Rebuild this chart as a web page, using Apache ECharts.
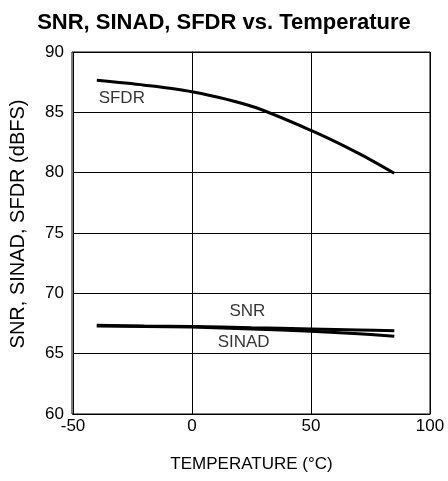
<!DOCTYPE html>
<html>
<head>
<meta charset="utf-8">
<script src="https://cdn.jsdelivr.net/npm/echarts@6/dist/echarts.min.js"></script>
<style>
  html, body { margin: 0; padding: 0; background: #fff; }
  #chart { width: 448px; height: 481px; }
</style>
</head>
<body>
<div id="chart"></div>
<script>
// data
const temps = [-40, -20, 0, 25, 50, 70, 85];
const sfdr = [87.65, 87.25, 86.7, 85.5, 83.5, 81.6, 79.95];
const snr = [67.35, 67.3, 67.25, 67.15, 67.05, 66.97, 66.9];
const sinad = [67.3, 67.25, 67.2, 67.05, 66.85, 66.65, 66.45];
const labels = [
    { name: 'SFDR', pos: [-29.5, 86.15] },
    { name: 'SNR', pos: [23.3, 68.55] },
    { name: 'SINAD', pos: [21.7, 65.95] }
];

const pair = (xs, ys) => xs.map((x, i) => [x, ys[i]]);
const font = 'Liberation Sans, Arial, sans-serif';

const lineSeries = (name, vals) => ({
    name: name,
    type: 'line',
    data: pair(temps, vals),
    smooth: 0.3,
    symbol: 'none',
    lineStyle: { color: '#000', width: 3 },
    z: 5
});

const chart = echarts.init(document.getElementById('chart'));
chart.setOption({
    animation: false,
    title: {
        text: 'SNR, SINAD, SFDR vs. Temperature',
        left: 'center',
        top: 7,
        textStyle: { fontFamily: font, fontSize: 22, fontWeight: 'bold', color: '#000' }
    },
    grid: { left: 72, right: 18, top: 52, bottom: 67 },
    xAxis: {
        type: 'value',
        min: -50, max: 100, interval: 50,
        name: 'TEMPERATURE (°C)',
        nameLocation: 'middle',
        nameGap: 42,
        nameTextStyle: { fontFamily: font, fontSize: 17, color: '#000' },
        axisLine: { show: true, onZero: false, lineStyle: { color: '#000', width: 1 } },
        axisTick: { show: false },
        axisLabel: { fontFamily: font, fontSize: 17, color: '#000', margin: 4 },
        splitLine: { show: true, lineStyle: { color: '#000', width: 1 } }
    },
    yAxis: {
        type: 'value',
        min: 60, max: 90, interval: 5,
        name: 'SNR, SINAD, SFDR (dBFS)',
        nameLocation: 'middle',
        nameGap: 45,
        nameTextStyle: { fontFamily: font, fontSize: 20, color: '#000', padding: [0, 0, 0, 18] },
        axisLine: { show: true, lineStyle: { color: '#000', width: 1 } },
        axisTick: { show: false },
        axisLabel: { fontFamily: font, fontSize: 17, color: '#000', margin: 9 },
        splitLine: { show: true, lineStyle: { color: '#000', width: 1 } }
    },
    series: [
        lineSeries('SFDR', sfdr),
        lineSeries('SNR', snr),
        lineSeries('SINAD', sinad),
        {
            // curve annotations
            type: 'scatter',
            symbolSize: 0,
            data: labels.map(l => ({ name: l.name, value: l.pos })),
            label: {
                show: true,
                position: 'inside',
                formatter: '{b}',
                fontFamily: font,
                fontSize: 17,
                color: '#000'
            },
            z: 6
        }
    ]
});
// right and top frame edges
chart.setOption({
    graphic: [{
        type: 'rect',
        shape: { x: 72, y: 52, width: 358, height: 362 },
        style: { fill: 'none', stroke: '#000', lineWidth: 1 },
        silent: true
    }]
});
</script>
</body>
</html>
